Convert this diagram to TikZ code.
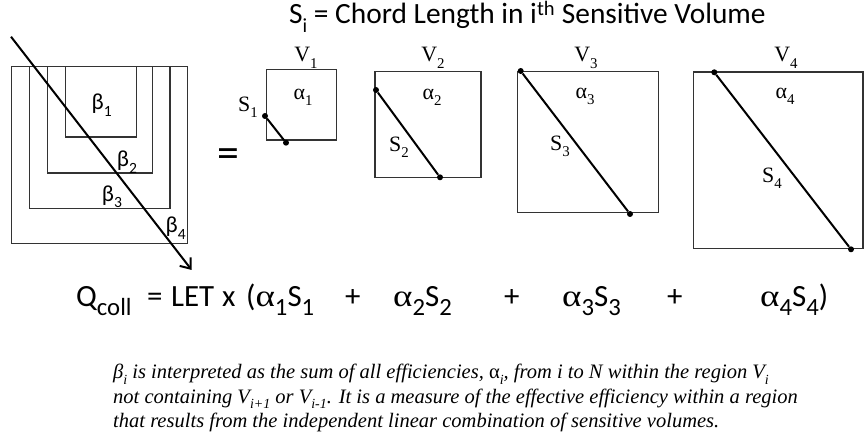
\documentclass[tikz,border=0pt]{standalone}
\usepackage{fontspec}
\usepackage{graphicx}
\usetikzlibrary{arrows.meta}
\setmainfont{Liberation Serif}
\newfontfamily\calib{Carlito}
\newfontfamily\timesf{Liberation Serif}
\newcommand{\sbx}[2][0.68]{\raisebox{-0.28em}{\scalebox{#1}{#2}}}
\newcommand{\eqa}{{\timesf\scalebox{1.2}[1]{α}}}
\begin{document}
\begin{tikzpicture}[x=1bp,y=-1bp,
  box/.style={draw=black!80, line width=1.2bp},
  chord/.style={line width=2bp, black},
  dot/.style={circle, fill=black, inner sep=0pt, minimum size=6bp},
  tlab/.style={font=\timesf\fontsize{22}{24}\selectfont, inner sep=0pt},
  blab/.style={font=\calib\fontsize{23}{24}\selectfont, inner sep=0pt},
  eq/.style={font=\calib\fontsize{31}{33}\selectfont, inner sep=0pt, anchor=base west},
  note/.style={font=\timesf\itshape\fontsize{20.6}{22}\selectfont, inner sep=0pt, anchor=base west}
]
\useasboundingbox (0,0) rectangle (864,438);

% title
\node[font=\calib\fontsize{29.5}{31}\selectfont, inner sep=0pt, anchor=base west] (title) at (289,24) {S\sbx{i} = Chord Length in i\textsuperscript{th} Sensitive Volume};

% nested regions
\draw[box] (11.7,66.7) rectangle (187.7,243.3);
\draw[box] (29.3,66.7) rectangle (170,208.3);
\draw[box] (47.3,66.7) rectangle (152.7,173);
\draw[box] (65.7,66.7) rectangle (136.3,137);
\node[blab] (b1) at (101.7,105) {β\sbx{1}};
\node[blab] (b2) at (127,162) {β\sbx{2}};
\node[blab] (b3) at (112,197) {β\sbx{3}};
\node[blab] (b4) at (175.7,228) {β\sbx{4}};
\coordinate (a0) at (11,36.7);
\coordinate (a1) at (191.7,270);
\draw[line width=2bp, -{Straight Barb[length=9bp,width=14bp,line width=2bp]}] (a0) -- (a1);

\node[font=\calib\fontsize{44}{46}\selectfont, inner sep=0pt] (eqsign) at (228,158) {=};

% V1
\draw[box] (266.3,69.3) rectangle (336.7,140);
\node[tlab, anchor=base] (V1) at (306,62) {V\sbx{1}};
\node[tlab] (al1) at (303,97) {α\sbx{1}};
\node[tlab] (S1) at (248,107) {S\sbx{1}};
\node[dot] (p1a) at (265,116) {};
\node[dot] (p1b) at (286,142.7) {};
\draw[chord] (p1a) -- (p1b);

% V2
\draw[box] (375,71.7) rectangle (481,177.3);
\node[tlab, anchor=base] (V2) at (433,62) {V\sbx{2}};
\node[tlab] (al2) at (432,97) {α\sbx{2}};
\node[tlab] (S2) at (399,147) {S\sbx{2}};
\node[dot] (p2a) at (376,90) {};
\node[dot] (p2b) at (440,177.3) {};
\draw[chord] (p2a) -- (p2b);

% V3
\draw[box] (517.3,71.7) rectangle (658.3,212.7);
\node[tlab, anchor=base] (V3) at (586,62) {V\sbx{3}};
\node[tlab] (al3) at (585,96.7) {α\sbx{3}};
\node[tlab] (S3) at (560,146) {S\sbx{3}};
\node[dot] (p3a) at (520.7,71) {};
\node[dot] (p3b) at (630,214) {};
\draw[chord] (p3a) -- (p3b);

% V4
\draw[box] (693.3,72) rectangle (863,248.3);
\node[tlab, anchor=base] (V4) at (786,62) {V\sbx{4}};
\node[tlab] (al4) at (785,96.7) {α\sbx{4}};
\node[tlab] (S4) at (772,178) {S\sbx{4}};
\node[dot] (p4a) at (714.3,72.3) {};
\node[dot] (p4b) at (851,249.3) {};
\draw[chord] (p4a) -- (p4b);

% equation
\node[eq] (q) at (76,307) {Q\sbx[0.8]{coll}};
\node[eq] (e1) at (147,307) {=};
\node[eq] (let) at (171,307) {LET};
\node[eq] (x) at (222,307) {x};
\node[eq] (t1) at (246,307) {(\eqa\sbx[0.8]{1}S\sbx[0.8]{1}};
\node[eq] (pl1) at (345,307) {+};
\node[eq] (t2) at (393,307) {\eqa\sbx[0.8]{2}S\sbx[0.8]{2}};
\node[eq] (pl2) at (504,307) {+};
\node[eq] (t3) at (562,307) {\eqa\sbx[0.8]{3}S\sbx[0.8]{3}};
\node[eq] (pl3) at (667,307) {+};
\node[eq] (t4) at (760,307) {\eqa\sbx[0.8]{4}S\sbx[0.8]{4})};

% note
\node[note] (n1) at (113,379) {β\sbx{i} is interpreted as the sum of all efficiencies, {\upshape α}\sbx{i}, from i to N within the region V\sbx{i}};
\node[note] (n2) at (113,403) {not containing V\sbx{i+1} or V\sbx{i-1}. It is a measure of the effective efficiency within a region};
\node[note] (n3) at (113,427) {that results from the independent linear combination of sensitive volumes.};
\end{tikzpicture}
\end{document}
